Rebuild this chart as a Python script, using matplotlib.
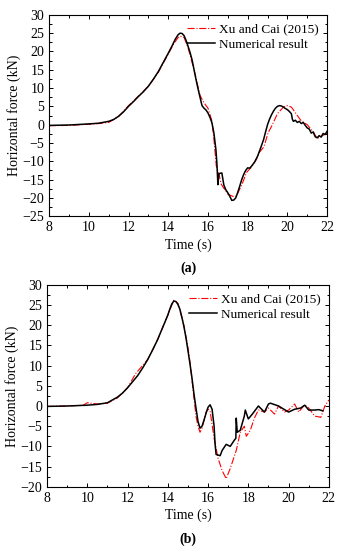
import numpy as np
import matplotlib.pyplot as plt
from matplotlib.ticker import MultipleLocator

# ---------------- data ----------------
# (a) numerical result
ta_num = [8.0, 9.0, 10.0, 10.5, 10.8, 11.0, 11.25, 11.5, 11.75, 12.0, 12.25, 12.5, 12.75,
          13.0, 13.25, 13.5, 13.75, 14.0, 14.2, 14.35, 14.5, 14.6, 14.7, 14.8, 14.9, 15.0,
          15.1, 15.2, 15.3, 15.4, 15.5, 15.6, 15.7, 15.8, 15.9, 16.0, 16.1, 16.2, 16.3,
          16.4, 16.45, 16.5, 16.55, 16.6, 16.7, 16.8, 16.9, 17.0, 17.1, 17.2, 17.3, 17.4,
          17.5, 17.6, 17.7, 17.8, 17.9, 18.0, 18.1, 18.2, 18.35, 18.5, 18.65, 18.8, 18.9,
          19.0, 19.1, 19.2, 19.3, 19.4, 19.5, 19.6, 19.7, 19.8, 19.9, 20.0, 20.1, 20.2,
          20.25, 20.3, 20.4, 20.5, 20.6, 20.7, 20.8, 20.9, 21.0, 21.1, 21.2, 21.3, 21.4,
          21.5, 21.6, 21.7, 21.8, 21.9, 22.0]
fa_num = [-0.2, -0.1, 0.2, 0.4, 0.7, 0.9, 1.4, 2.3, 3.5, 5.0, 6.3, 7.7, 9.0,
          10.5, 12.4, 14.5, 17.0, 19.5, 21.6, 23.3, 24.6, 25.0, 24.9, 24.3, 23.0, 21.4,
          19.7, 17.7, 15.0, 12.3, 9.8, 7.5, 5.2, 4.5, 4.0, 3.2, 2.0, 0.5, -2.3,
          -6.8, -10.5, -16.4, -13.5, -13.3, -13.2, -16.5, -17.8, -18.6, -19.6, -20.7, -20.6, -20.0,
          -18.5, -16.8, -15.0, -13.6, -12.5, -11.8, -11.9, -11.3, -10.2, -8.6, -6.4, -4.1, -2.0,
          0.0, 1.5, 2.7, 3.7, 4.5, 5.0, 5.2, 5.1, 4.8, 4.4, 4.1, 3.6, 3.0,
          1.5, 0.9, 1.2, 0.6, 0.9, 0.3, 0.6, -0.2, -0.9, -1.2, -2.3, -2.0, -3.3,
          -3.6, -3.0, -3.4, -2.4, -2.7, -1.8]

# (a) Xu and Cai (2015)
ta_ref = [8.0, 9.0, 10.0, 10.5, 11.0, 11.5, 11.8, 12.0, 12.5, 13.0, 13.5, 14.0, 14.3, 14.5,
          14.6, 14.8, 15.0, 15.3, 15.6, 15.8, 16.0, 16.2, 16.3, 16.42, 16.55, 16.67, 17.0,
          17.26, 17.43, 17.7, 17.94, 18.2, 18.44, 18.6, 18.78, 18.85, 19.03, 19.2, 19.5,
          19.8, 20.0, 20.2, 20.5, 20.7, 21.0, 21.3, 21.5, 21.7, 22.0]
fa_ref = [-0.3, -0.2, 0.1, 0.3, 0.6, 2.2, 4.0, 5.2, 7.8, 10.5, 14.3, 19.3, 22.3, 23.8,
          24.2, 23.8, 21.0, 15.0, 8.0, 6.0, 4.5, 1.0, -4.0, -11.3, -13.5, -16.3, -19.0,
          -19.6, -19.5, -16.5, -13.1, -11.5, -9.5, -7.5, -6.3, -5.5, -2.2, -0.5, 3.0,
          4.8, 5.2, 4.8, 2.5, 1.0, 0.0, -2.0, -3.8, -3.2, -2.3]

# (b) numerical result
tb_num = [8.0, 9.0, 10.0, 10.5, 11.0, 11.5, 11.75, 12.0, 12.25, 12.5, 12.75, 13.0, 13.25,
          13.5, 13.75, 14.0, 14.1, 14.2, 14.3, 14.4, 14.5, 14.6, 14.7, 14.8, 14.9, 15.0,
          15.1, 15.2, 15.3, 15.4, 15.5, 15.6, 15.7, 15.8, 15.9, 16.0, 16.1, 16.2, 16.3,
          16.35, 16.4, 16.6, 16.7, 16.9, 17.1, 17.3, 17.38, 17.4, 17.45, 17.6, 17.8, 17.85,
          18.0, 18.2, 18.5, 18.8, 19.0, 19.1, 19.5, 20.0, 20.3, 20.6, 20.8, 21.0, 21.3,
          21.5, 21.7]
fb_num = [-0.1, 0.0, 0.2, 0.4, 0.8, 2.2, 3.2, 4.5, 6.0, 7.5, 9.4, 11.5, 13.9,
          16.5, 19.5, 22.5, 24.0, 25.3, 26.0, 25.9, 25.2, 24.0, 22.0, 19.7, 17.0, 13.8,
          10.5, 7.0, 3.0, -0.5, -3.8, -5.5, -5.0, -3.5, -1.8, -0.3, 0.3, -0.8, -5.0,
          -9.5, -12.0, -12.3, -11.0, -9.5, -10.0, -8.5, -8.0, -3.0, -6.5, -6.0, -2.5, -1.0,
          -3.2, -2.0, 0.0, -1.5, 0.5, 0.7, 0.0, -1.5, -0.8, -0.5, 0.2, -1.0, -1.0,
          -0.9, -1.2]

# (b) Xu and Cai (2015)
tb_ref = [8.0, 9.0, 9.8, 10.0, 10.5, 11.0, 11.5, 12.0, 12.4, 13.0, 13.5, 14.0, 14.3,
          14.5, 14.8, 15.0, 15.1, 15.2, 15.3, 15.4, 15.5, 15.6, 15.7, 15.8, 15.9, 16.0,
          16.1, 16.3, 16.5, 16.7, 16.9, 17.1, 17.4, 17.6, 17.8, 17.9, 18.1, 18.3, 18.5,
          18.8, 19.0, 19.3, 19.5, 19.8, 20.0, 20.3, 20.5, 20.8, 21.0, 21.3, 21.6, 21.8,
          22.0]
fb_ref = [-0.1, 0.0, 0.2, 0.8, 0.5, 0.7, 2.0, 4.5, 8.0, 11.5, 16.5, 22.5, 26.2,
          25.5, 20.0, 14.5, 11.0, 6.5, 2.0, -2.5, -5.0, -6.5, -5.5, -3.5, -1.5, -0.8,
          -1.2, -8.0, -13.0, -16.0, -18.0, -15.5, -11.0, -6.5, -5.0, -7.5, -6.0, -3.0, -1.0,
          -1.5, -0.5, -2.0, 0.0, -1.5, -1.0, 0.5, -1.5, 0.3, -0.5, -2.5, -2.8, 0.0,
          1.5]

plt.rcParams.update({
    "font.family": ["Liberation Serif", "DejaVu Serif"],
    "font.size": 10,
    "axes.linewidth": 0.8,
    "xtick.direction": "in",
    "ytick.direction": "in",
    "xtick.top": True,
    "ytick.right": True,
    "xtick.major.size": 3,
    "ytick.major.size": 3,
    "xtick.minor.size": 1.8,
    "ytick.minor.size": 1.8,
    "xtick.minor.visible": True,
    "ytick.minor.visible": True,
})

fig = plt.figure(figsize=(3.48, 5.5), dpi=100)
ax1 = fig.add_axes([0.141, 0.607, 0.799, 0.366])
ax2 = fig.add_axes([0.135, 0.115, 0.810, 0.367])

panels = [
    (ax1, ta_ref, fa_ref, ta_num, fa_num, (-25, 30), "(a)"),
    (ax2, tb_ref, fb_ref, tb_num, fb_num, (-20, 30), "(b)"),
]

for ax, tr, fr, tn, fn, ylim, tag in panels:
    ax.plot(tr, fr, color="red", linestyle="-.", linewidth=0.8, label="Xu and Cai (2015)")
    ax.plot(tn, fn, color="black", linewidth=1.1, label="Numerical result")
    ax.set_xlim(8, 22)
    ax.set_ylim(*ylim)
    ax.xaxis.set_major_locator(MultipleLocator(2))
    ax.xaxis.set_minor_locator(MultipleLocator(1))
    ax.yaxis.set_major_locator(MultipleLocator(5))
    ax.yaxis.set_minor_locator(MultipleLocator(2.5))
    ax.tick_params(which="both", width=0.7)
    ax.set_xlabel("Time (s)", labelpad=3)
    ax.set_ylabel("Horizontal force (kN)", labelpad=1)
    ax.legend(loc="upper right", frameon=False, handlelength=2.1, handletextpad=0.3,
              labelspacing=0.2, borderaxespad=0.25, fontsize=9.5)
    ax.text(0.5, -0.225, tag, transform=ax.transAxes, ha="center", va="top",
            fontweight="bold")

plt.savefig("out.png", dpi=100)
